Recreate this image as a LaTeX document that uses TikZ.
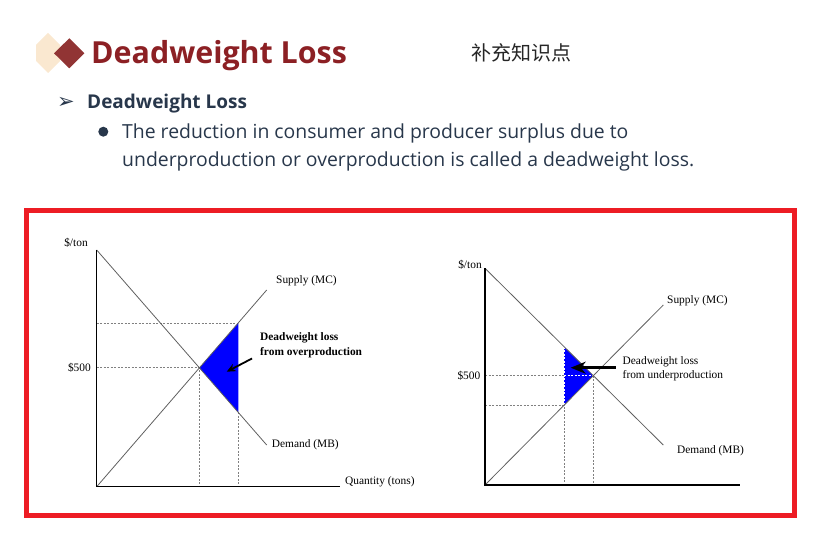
\documentclass[tikz,border=0pt]{standalone}
\usepackage{fontspec}
\setmainfont{Open Sans}
\newfontfamily\cjkfont{Noto Sans CJK SC}
\newfontfamily\symfont{DejaVu Sans}
\newfontfamily\chartfont{Liberation Serif}
\usetikzlibrary{arrows.meta, positioning}
\definecolor{titlered}{RGB}{140,32,36}
\definecolor{diamondred}{RGB}{145,52,52}
\definecolor{paleorange}{RGB}{250,232,208}
\definecolor{slatetext}{RGB}{40,55,75}
\definecolor{framered}{RGB}{237,28,36}
\definecolor{curvegray}{RGB}{95,95,95}
\definecolor{dwlblue}{RGB}{0,0,255}

\begin{document}
\begin{tikzpicture}[
  x=1pt, y=-1pt,
  axis/.style={draw=black, line width=1.1pt},
  curve/.style={draw=curvegray, line width=0.8pt},
  guide/.style={draw=gray, dash pattern=on 2pt off 1.5pt, line width=0.7pt},
  lbl/.style={font=\chartfont\fontsize{11.4}{14.5}\selectfont, inner sep=0pt},
  dwl/.style={fill=dwlblue, draw=none},
  pointer/.style={-{Stealth[length=9pt, width=8pt]}, line width=1.8pt, black},
  body/.style={font=\fontsize{19.4}{24}\selectfont, text=slatetext, inner sep=0pt, anchor=base west}
]
  \useasboundingbox (0,0) rectangle (817,543);

  % heading
  \fill[paleorange] (36,45) -- (48,33) -- (60,45) -- (60,61) -- (48,73) -- (36,61) -- cycle;
  \fill[diamondred] (54,53.3) -- (69.3,38.3) -- (84.3,53.3) -- (69.3,68.3) -- cycle;
  \node[anchor=base west, inner sep=0pt, font=\bfseries\fontsize{30.4}{36}\selectfont, text=titlered] (title) at (91,63.3) {Deadweight Loss};
  \node[anchor=base west, inner sep=0pt, font=\cjkfont\fontsize{20}{24}\selectfont, text=black!85] (note) at (471,61) {补充知识点};

  \node[font=\symfont\fontsize{21}{24}\selectfont, text=slatetext, inner sep=0pt] (mark) at (66,102.5) {➢};
  \node[body, font=\bfseries\fontsize{19}{22}\selectfont] (sub) at (87,108.3) {Deadweight Loss};
  \fill[slatetext] (103.3,131.7) circle (5);
  \node[body] (line1) at (122,138.3) {The reduction in consumer and producer surplus due to};
  \node[body] (line2) at (122,166.7) {underproduction or overproduction is called a deadweight loss.};

  \draw[framered, line width=5pt] (26.5,210.8) rectangle (794.2,515);

  % overproduction
  \coordinate (o1) at (96.7,486.7);
  \coordinate (ytop1) at (96.7,250);
  \coordinate (xend1) at (340,486.7);
  \coordinate (dend1) at (266.7,445);
  \coordinate (send1) at (266.7,290);
  \coordinate (eq1) at (199.4,367.8);
  \coordinate (sq1) at (238.3,322.9);
  \coordinate (dq1) at (238.3,412.4);

  \fill[dwl] (eq1) -- (sq1) -- (dq1) -- cycle;
  \draw[guide] (o1 |- eq1) -- (eq1) -- (eq1 |- o1);
  \draw[guide] (o1 |- sq1) -- (sq1);
  \draw[guide] (dq1) -- (dq1 |- o1);
  \draw[curve] (ytop1) -- (dend1);
  \draw[curve] (o1) -- (send1);
  \draw[axis] (ytop1) -- (o1) -- (xend1);

  \node[lbl] (price1) at (76,243) {\$/ton};
  \node[lbl, anchor=east] (fivea) at (91,368) {\$500};
  \node[lbl, anchor=west] (supply1) at (276,281) {Supply (MC)};
  \node[lbl, anchor=west] (demand1) at (271.7,445) {Demand (MB)};
  \node[lbl, anchor=west] (qty1) at (345,482) {Quantity (tons)};
  \node[lbl, anchor=west, align=left, font=\chartfont\bfseries\fontsize{11.4}{14.5}\selectfont] (over) at (260,345.5) {Deadweight loss\\from overproduction};
  \coordinate (tip1) at (226.7,371.7);
  \draw[pointer] ([shift={(-8,13)}]over.west) -- (tip1);

  % underproduction
  \coordinate (o2) at (485,485);
  \coordinate (ytop2) at (485,268.3);
  \coordinate (xend2) at (740,485);
  \coordinate (dend2) at (663.3,445);
  \coordinate (send2) at (663.3,305);
  \coordinate (eq2) at (593.3,375.6);
  \coordinate (dq2) at (564,346.6);
  \coordinate (sq2) at (564,405.3);

  \draw[guide] (o2 |- eq2) -- (eq2) -- (eq2 |- o2);
  \draw[guide] (o2 |- sq2) -- (sq2) -- (sq2 |- o2);
  \fill[dwl] (dq2) -- (sq2) -- (eq2) -- cycle;
  \draw[guide, draw=white] (dq2) -- (sq2);
  \draw[guide, draw=white] (dq2 |- eq2) -- (eq2);
  \draw[curve] (ytop2) -- (dend2);
  \draw[curve] (o2) -- (send2);
  \draw[axis] (ytop2) -- (o2) -- (xend2);

  \node[lbl] (price2) at (470,265) {\$/ton};
  \node[lbl, anchor=east] (fiveb) at (480.5,376) {\$500};
  \node[lbl, anchor=west] (supply2) at (667,301) {Supply (MC)};
  \node[lbl, anchor=west] (demand2) at (677,450.7) {Demand (MB)};
  \node[lbl, anchor=west, align=left] (under) at (622.5,369) {Deadweight loss\\from underproduction};
  \coordinate (tip2) at (570.7,367.7);
  \draw[pointer, line width=2.8pt, -{Stealth[length=15pt, width=12pt]}] ([shift={(-7,-1.3)}]under.west) -- (tip2);
\end{tikzpicture}
\end{document}
